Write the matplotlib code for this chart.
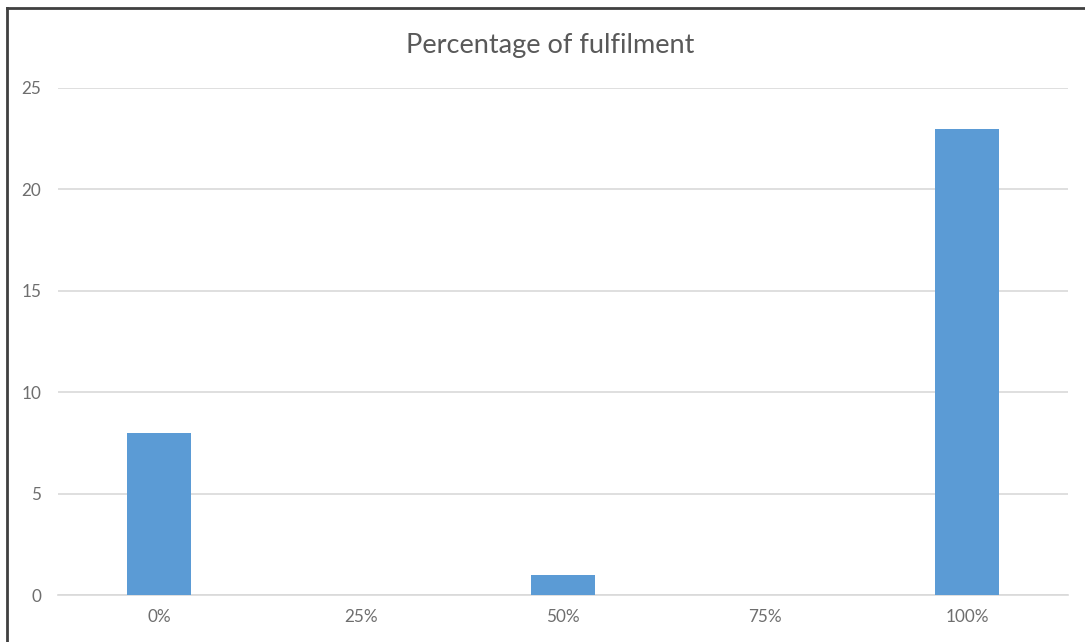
import matplotlib
matplotlib.use("Agg")
import matplotlib.pyplot as plt
from matplotlib.lines import Line2D

categories = ["0%", "25%", "50%", "75%", "100%"]
values = [8, 0, 1, 0, 23]
yticks = [0, 5, 10, 15, 20, 25]
title = "Percentage of fulfilment"

plt.rcParams['font.family'] = ['Lato', 'DejaVu Sans']

fig = plt.figure(figsize=(10.85, 6.42), dpi=100)
ax = fig.add_axes([58/1085, 1-595/642, (1068-58)/1085, (595-88)/642])

x = range(len(categories))
ax.bar(x, values, width=0.315, color="#5B9BD5", zorder=3)
ax.set_xlim(-0.5, len(categories)-0.5)
ax.set_ylim(0, 25)
ax.set_yticks(yticks)
ax.set_xticks(list(x))
ax.set_xticklabels(categories)
ax.yaxis.grid(True, color="#D9D9D9", linewidth=1.2, zorder=0)
ax.set_axisbelow(True)
for s in ["top", "right", "left"]:
    ax.spines[s].set_visible(False)
ax.spines["bottom"].set_color("#D9D9D9")
ax.spines["bottom"].set_linewidth(1.2)
ax.tick_params(axis="both", length=0, colors="#6E6E6E", labelsize=12.3)
ax.tick_params(axis="y", pad=12)
ax.tick_params(axis="x", pad=10)

fig.text(550/1085, 1-45/642, title, ha="center", va="center", fontsize=19.5, color="#595959")

# outer frame (left and top visible)
fig.add_artist(Line2D([7/1085, 7/1085], [0, 1-8/642], transform=fig.transFigure, color="#404040", linewidth=2))
fig.add_artist(Line2D([7/1085, 1], [1-8/642, 1-8/642], transform=fig.transFigure, color="#404040", linewidth=2))

fig.savefig("out.png", dpi=100, facecolor="white")
